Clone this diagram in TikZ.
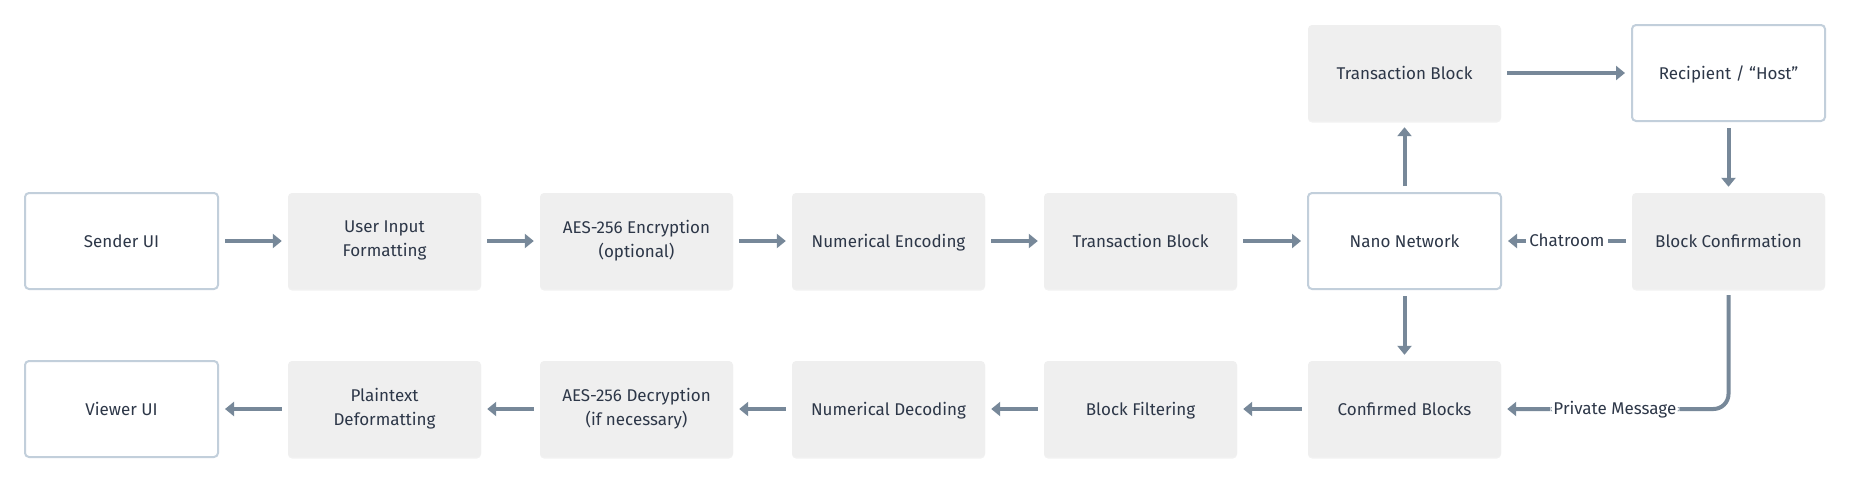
\documentclass[tikz,border=0pt]{standalone}
\usepackage{fontspec}
\setmainfont{Fira Sans}
\usetikzlibrary{arrows.meta,shadows}
\definecolor{arrc}{RGB}{119,136,153}
\definecolor{boxg}{RGB}{239,239,239}
\definecolor{bord}{RGB}{194,207,219}
\definecolor{txt}{RGB}{45,55,72}
\tikzset{
  base/.style={minimum width=193pt,minimum height=96pt,align=center,text=txt,
    font=\fontsize{17}{24}\selectfont,rounded corners=4pt,inner sep=2pt,
    execute at begin node={\rule{0pt}{18pt}}, execute at end node={\rule[-5pt]{0pt}{5pt}}},
  gbox/.style={base,fill=boxg,drop shadow={opacity=0.10,shadow xshift=0pt,shadow yshift=-1.5pt}},
  wbox/.style={base,fill=white,draw=bord,line width=2pt},
  arr/.style={draw=arrc,line width=4pt,-{Triangle[length=9pt,width=14pt]},shorten <=6pt,shorten >=6pt},
  lab/.style={fill=white,text=txt,font=\fontsize{17}{20}\selectfont,inner xsep=3pt,inner ysep=2pt,
    text height=13pt,text depth=3pt}
}
\begin{document}
\begin{tikzpicture}[x=1pt,y=-1pt]
\useasboundingbox[fill=white] (0,0) rectangle (1850,482);
% middle row
\node[wbox] (sender) at (121.5,241) {Sender UI};
\node[gbox] (uif) at (384.5,241) {User Input\\Formatting};
\node[gbox] (aese) at (636.5,241) {AES-256 Encryption\\(optional)};
\node[gbox] (nume) at (888.5,241) {Numerical Encoding};
\node[gbox] (tb) at (1140.5,241) {Transaction Block};
\node[wbox] (nano) at (1404.5,241) {Nano Network};
\node[gbox] (bc) at (1728.5,241) {Block Confirmation};
% top row
\node[gbox] (tbt) at (1404.5,73) {Transaction Block};
\node[wbox] (host) at (1728.5,73) {Recipient / “Host”};
% bottom row
\node[wbox] (viewer) at (121.5,409) {Viewer UI};
\node[gbox] (pdf) at (384.5,409) {Plaintext\\Deformatting};
\node[gbox] (aesd) at (636.5,409) {AES-256 Decryption\\(if necessary)};
\node[gbox] (numd) at (888.5,409) {Numerical Decoding};
\node[gbox] (bf) at (1140.5,409) {Block Filtering};
\node[gbox] (cb) at (1404.5,409) {Confirmed Blocks};
% connectors
\draw[arr] (sender) -- (uif);
\draw[arr] (uif) -- (aese);
\draw[arr] (aese) -- (nume);
\draw[arr] (nume) -- (tb);
\draw[arr] (tb) -- (nano);
\draw[arr] (nano) -- (tbt);
\draw[arr] (tbt) -- (host);
\draw[arr] (host) -- (bc);
\draw[arr] (bc) -- node[lab]{Chatroom} (nano);
\draw[arr] (nano) -- (cb);
\draw[arr,rounded corners=15pt] (bc.south) |- node[lab,pos=0.75]{Private Message} (cb.east);
\draw[arr] (cb) -- (bf);
\draw[arr] (bf) -- (numd);
\draw[arr] (numd) -- (aesd);
\draw[arr] (aesd) -- (pdf);
\draw[arr] (pdf) -- (viewer);
\end{tikzpicture}
\end{document}
